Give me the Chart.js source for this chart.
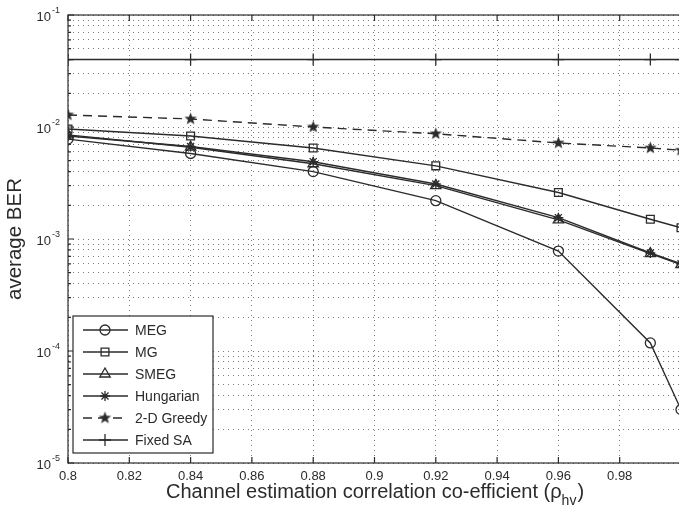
<!DOCTYPE html>
<html>
<head>
<meta charset="utf-8">
<script src="https://cdn.jsdelivr.net/npm/chart.js@4.4.1/dist/chart.umd.min.js"></script>
<style>
  html, body { margin: 0; padding: 0; background: #fff; overflow: hidden; }
  canvas { display: block; }
</style>
</head>
<body>
<canvas id="ber_chart" width="690" height="515"></canvas>
<script>
// channel estimation correlation (x) and average BER per algorithm
const rho = [0.8, 0.84, 0.88, 0.92, 0.96, 0.99, 1.0];
const berMEG = [0.0078, 0.0058, 0.0040, 0.0022, 0.00078, 0.000118, 0.00003];
const berMG = [0.0096, 0.0083, 0.0065, 0.0045, 0.0026, 0.0015, 0.00126];
const berSMEG = [0.0085, 0.0066, 0.0047, 0.0030, 0.00148, 0.00074, 0.00059];
const berHungarian = [0.0083, 0.0067, 0.0049, 0.0031, 0.00155, 0.00075, 0.0006];
const berGreedy2D = [0.0128, 0.0118, 0.0100, 0.0087, 0.0072, 0.0065, 0.0062];
const berFixedSA = [0.04, 0.04, 0.04, 0.04, 0.04, 0.04, 0.04];

const seriesNames = ["MEG", "MG", "SMEG", "Hungarian", "2-D Greedy", "Fixed SA"];
const xTickValues = [0.8, 0.82, 0.84, 0.86, 0.88, 0.9, 0.92, 0.94, 0.96, 0.98, 1.0];
const yDecades = [1e-5, 1e-4, 1e-3, 1e-2, 1e-1];
const yDecadeExps = ["-5", "-4", "-3", "-2", "-1"];

const ink = "#2b2b2b";
const gridInk = "#7a7a7a";
const FONT = "'Liberation Sans', Arial, Helvetica, sans-serif";

// every 1..9 x 10^k grid line, like matlab's log grid
const yTickValues = [];
for (let d = 0; d < yDecades.length - 1; d++) {
  for (let k = 1; k <= 9; k++) yTickValues.push(+(k * yDecades[d]).toPrecision(3));
}
yTickValues.push(yDecades[yDecades.length - 1]);

function starImage(r) {
  const c = document.createElement("canvas");
  const s = Math.ceil(r * 2 + 2);
  c.width = s; c.height = s;
  const g = c.getContext("2d");
  g.beginPath();
  for (let i = 0; i < 10; i++) {
    const a = -Math.PI / 2 + i * Math.PI / 5;
    const rr = i % 2 ? r * 0.42 : r;
    g.lineTo(s / 2 + rr * Math.cos(a), s / 2 + rr * Math.sin(a));
  }
  g.closePath();
  g.fillStyle = ink;
  g.fill();
  return c;
}
const greedyStar = starImage(6.5);

function pts(arr) {
  return rho.map((x, i) => ({ x: x, y: arr[i] }));
}

function series(name, arr, style, extra) {
  return Object.assign({
    label: name,
    data: pts(arr),
    borderColor: ink,
    backgroundColor: ink,
    borderWidth: 1.4,
    pointStyle: style,
    pointRadius: 5,
    pointBorderColor: ink,
    pointBackgroundColor: "rgba(0,0,0,0)",
    pointBorderWidth: 1.3,
    tension: 0,
    fill: false,
  }, extra || {});
}

const datasets = [
  series(seriesNames[0], berMEG, "circle"),
  series(seriesNames[1], berMG, "rect", { pointRadius: 5.5 }),
  series(seriesNames[2], berSMEG, "triangle", { pointRadius: 6 }),
  series(seriesNames[3], berHungarian, "star", { pointRadius: 5 }),
  series(seriesNames[4], berGreedy2D, greedyStar, { borderDash: [9, 6] }),
  series(seriesNames[5], berFixedSA, "cross", { pointRadius: 6 }),
];

const frameAndExtras = {
  id: "frameAndExtras",
  afterDraw(chart) {
    const ctx = chart.ctx;
    const a = chart.chartArea;
    const xs = chart.scales.x, ys = chart.scales.y;
    ctx.save();
    ctx.strokeStyle = ink;
    ctx.lineWidth = 1.2;
    ctx.strokeRect(a.left, a.top, a.right - a.left, a.bottom - a.top);

    // inward tick marks
    ctx.beginPath();
    xTickValues.forEach(v => {
      const px = xs.getPixelForValue(v);
      ctx.moveTo(px, a.bottom); ctx.lineTo(px, a.bottom - 6);
      ctx.moveTo(px, a.top); ctx.lineTo(px, a.top + 6);
    });
    yTickValues.forEach(v => {
      const py = ys.getPixelForValue(v);
      const len = yDecades.includes(v) ? 6 : 3;
      ctx.moveTo(a.left, py); ctx.lineTo(a.left + len, py);
    });
    ctx.stroke();

    // y decade labels: 10 with a raised exponent
    ctx.fillStyle = ink;
    ctx.textBaseline = "alphabetic";
    ctx.textAlign = "left";
    yDecades.forEach((v, i) => {
      const py = ys.getPixelForValue(v);
      ctx.font = "13px " + FONT;
      const wBase = ctx.measureText("10").width;
      ctx.fillText("10", 51 - wBase, py + 6);
      ctx.font = "9px " + FONT;
      ctx.fillText(yDecadeExps[i], 52, py - 2);
    });

    // x axis title with subscript
    const main = "Channel estimation correlation co-efficient (\u03c1";
    const sub = "hv";
    const tail = ")";
    ctx.font = "20px " + FONT;
    const w1 = ctx.measureText(main).width;
    const w3 = ctx.measureText(tail).width;
    ctx.font = "14px " + FONT;
    const w2 = ctx.measureText(sub).width;
    let x0 = (a.left + a.right) / 2 - (w1 + w2 + w3) / 2;
    ctx.font = "20px " + FONT;
    ctx.fillText(main, x0, 498);
    ctx.font = "14px " + FONT;
    ctx.fillText(sub, x0 + w1, 505);
    ctx.font = "20px " + FONT;
    ctx.fillText(tail, x0 + w1 + w2 + 1, 498);

    // legend box inside the axes, lower left
    const bx = 73, by = 316, bw = 140, bh = 137;
    ctx.fillStyle = "#fff";
    ctx.fillRect(bx, by, bw, bh);
    ctx.strokeStyle = ink;
    ctx.lineWidth = 1.2;
    ctx.strokeRect(bx, by, bw, bh);
    chart.data.datasets.forEach((ds, i) => {
      const cy = 330 + i * 22;
      ctx.save();
      ctx.strokeStyle = ds.borderColor;
      ctx.lineWidth = ds.borderWidth;
      ctx.setLineDash(ds.borderDash || []);
      ctx.beginPath();
      ctx.moveTo(83, cy); ctx.lineTo(128, cy);
      ctx.stroke();
      ctx.setLineDash([]);
      ctx.strokeStyle = ds.pointBorderColor;
      ctx.fillStyle = ds.pointBackgroundColor;
      ctx.lineWidth = ds.pointBorderWidth;
      Chart.helpers.drawPoint(ctx, {
        pointStyle: ds.pointStyle, radius: ds.pointRadius,
        borderWidth: ds.pointBorderWidth, rotation: 0
      }, 105, cy);
      ctx.restore();
      ctx.fillStyle = ink;
      ctx.font = "14px " + FONT;
      ctx.textBaseline = "middle";
      ctx.fillText(ds.label, 135, cy + 1);
    });
    ctx.restore();
  }
};

new Chart(document.getElementById("ber_chart").getContext("2d"), {
  type: "line",
  data: { datasets: datasets },
  plugins: [frameAndExtras],
  options: {
    responsive: false,
    animation: false,
    layout: { padding: { top: 15, right: 9, left: 0, bottom: 0 } },
    plugins: {
      legend: { display: false },
      tooltip: { enabled: false },
    },
    scales: {
      x: {
        type: "linear",
        min: 0.8,
        max: 1.0,
        afterFit(scale) { scale.height = 52; },
        afterBuildTicks(scale) { scale.ticks = xTickValues.map(v => ({ value: v })); },
        border: { display: false, dash: [1, 4] },
        grid: {
          color: gridInk,
          lineWidth: 1,
          drawTicks: false,
        },
        ticks: {
          autoSkip: false,
          maxRotation: 0,
          padding: 6,
          color: ink,
          font: { size: 13, family: FONT },
          callback: (v) => (v >= 0.999 ? "" : String(Number(v.toFixed(2)))),
        },
      },
      y: {
        type: "logarithmic",
        min: 1e-5,
        max: 1e-1,
        afterFit(scale) { scale.width = 68; },
        afterBuildTicks(scale) { scale.ticks = yTickValues.map(v => ({ value: v })); },
        border: { display: false, dash: [1, 4] },
        grid: {
          color: gridInk,
          lineWidth: 1,
          drawTicks: false,
        },
        title: {
          display: true,
          text: "average BER",
          color: ink,
          font: { size: 20.5, family: FONT },
          padding: { top: 3, bottom: 0 },
        },
        ticks: {
          display: false,
        },
      },
    },
  },
});
</script>
</body>
</html>
